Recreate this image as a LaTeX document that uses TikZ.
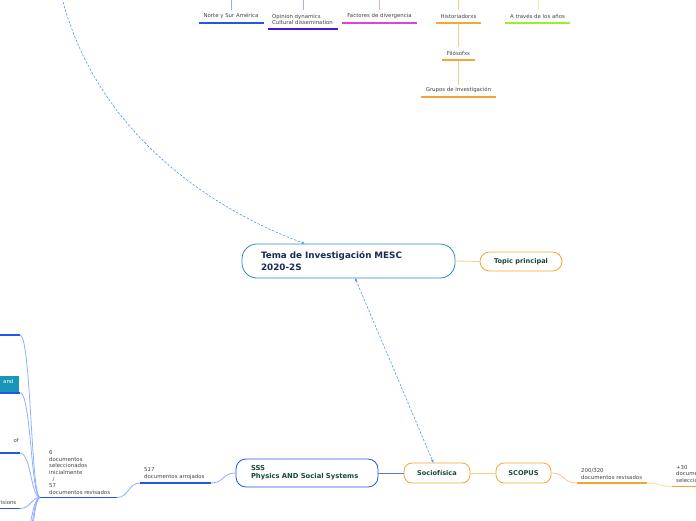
\documentclass[tikz,border=0pt]{standalone}
\usepackage{fontspec}
\setmainfont{DejaVu Sans}
\usetikzlibrary{arrows.meta}
\definecolor{navy}{HTML}{1A2A50}
\definecolor{dgreen}{HTML}{174A3A}
\definecolor{lbl}{HTML}{444444}
\definecolor{cblue}{HTML}{2A8AD0}
\definecolor{sblue}{HTML}{2255EE}
\definecolor{mblue}{HTML}{5577EE}
\definecolor{lblue}{HTML}{8FB0FF}
\definecolor{dashblue}{HTML}{4F95EE}
\definecolor{orng}{HTML}{F5A533}
\definecolor{lorng}{HTML}{FBCB85}
\definecolor{llorng}{HTML}{FDE3B8}
\definecolor{purp}{HTML}{5511DD}
\definecolor{lpurp}{HTML}{C2A6F5}
\definecolor{mag}{HTML}{E040E0}
\definecolor{lmag}{HTML}{F0A8F0}
\definecolor{grn}{HTML}{99EE33}
\definecolor{lgrn}{HTML}{D6F7B0}
\definecolor{teal}{HTML}{1995B8}
\tikzset{
  lab/.style={font=\fontsize{5.4}{6.6}\selectfont, text=lbl, inner sep=0pt, align=left},
  clab/.style={font=\fontsize{5.4}{6.6}\selectfont, text=lbl, inner sep=0pt, align=center},
  uline/.style={line width=1.6pt},
  conn/.style={line width=0.8pt},
  dashconn/.style={dashblue, line width=0.6pt, dash pattern=on 2.4pt off 1.6pt},
  tip/.style={-{Latex[length=3.2pt,width=2.6pt]}},
  bigbox/.style={draw=cblue, line width=0.8pt, rounded corners=15pt, minimum width=213pt, minimum height=34pt, text width=175pt, inner xsep=19pt, align=left, font=\bfseries\fontsize{8.8}{12.6}\selectfont, text=navy},
  obox/.style={draw=orng, line width=0.8pt, minimum height=20pt, inner xsep=0pt, font=\bfseries\fontsize{6.6}{8}\selectfont, text=dgreen, align=center},
  bbox/.style={draw=sblue, line width=0.8pt, rounded corners=10pt, minimum width=142pt, minimum height=28pt, text width=112pt, inner xsep=15pt, align=left, font=\bfseries\fontsize{6.8}{8.2}\selectfont, text=dgreen}
}
\begin{document}
\begin{tikzpicture}[x=1pt,y=-1pt]
\useasboundingbox (0,0) rectangle (696,520);
\clip (0,0) rectangle (696,520);
\fill[white] (0,0) rectangle (696,520);

% ---------- top row ----------
\coordinate (n1t) at (231,-20); \coordinate (n1b) at (231,10);
\coordinate (n2t) at (303,-20); \coordinate (n2b) at (303,10);
\coordinate (n3t) at (379,-20); \coordinate (n3b) at (379,10);
\coordinate (n4t) at (458.5,-20); \coordinate (n4b) at (458.5,10);
\coordinate (n5t) at (538,-20); \coordinate (n5b) at (538,10);
\draw[conn, lblue] (n1t) -- (n1b);
\draw[conn, lpurp] (n2t) -- (n2b);
\draw[conn, lmag] (n3t) -- (n3b);
\draw[conn, lorng] (n4t) -- (n4b);
\draw[conn, lgrn] (n5t) -- (n5b);

\node[clab] (norte) at (231,16) {Norte y Sur América};
\coordinate (norteL) at (199,22.7); \coordinate (norteR) at (264,22.7);
\draw[uline, sblue] (norteL) -- (norteR);

\node[lab, anchor=west] (opinion) at (272,19.5) {Opinion dynamics\\Cultural dissemination};
\coordinate (opL) at (268,29); \coordinate (opR) at (338,29);
\draw[uline, purp] (opL) -- (opR);

\node[clab] (factores) at (379.5,16) {Factores de divergencia};
\coordinate (facL) at (342,22.7); \coordinate (facR) at (417,22.7);
\draw[uline, mag] (facL) -- (facR);

\node[clab] (hist) at (458.5,16) {Historiadorxs};
\coordinate (histL) at (436,22.7); \coordinate (histR) at (481,22.7);
\coordinate (histB) at (458.5,23.5);
\draw[uline, orng] (histL) -- (histR);

\node[clab] (anos) at (537.5,16) {A través de los años};
\coordinate (anosL) at (505,22.7); \coordinate (anosR) at (570,22.7);
\draw[uline, grn] (anosL) -- (anosR);

\node[clab] (filo) at (458.5,53) {Filósofxs};
\coordinate (filoT) at (458.5,47); \coordinate (filoB) at (458.5,61);
\coordinate (filoL) at (442,60); \coordinate (filoR) at (475,60);
\draw[uline, orng] (filoL) -- (filoR);
\draw[conn, lorng] (histB) -- (filoT);

\node[clab] (grupos) at (458.5,90) {Grupos de investigación};
\coordinate (grupT) at (458.5,85);
\coordinate (grupL) at (421,97); \coordinate (grupR) at (496,97);
\draw[uline, orng] (grupL) -- (grupR);
\draw[conn, lorng] (filoB) -- (grupT);

% ---------- central ----------
\node[bigbox] (tema) at (348.5,261) {Tema de Investigación MESC\\2020-2S};
\node[obox, rounded corners=9.5pt, minimum width=82pt, minimum height=19pt] (topic) at (521,261.5) {Topic principal};
\draw[conn, lorng] (tema.east) -- (topic.west);

% dashed curve from top
\coordinate (dtop) at (62,-2);
\coordinate (temaTop) at (305,243.6);
\draw[dashconn, tip] (dtop) .. controls (95,125) and (200,205) .. (temaTop);

% ---------- bottom row ----------
\node[bbox] (sss) at (307,473) {SSS\\Physics AND Social Systems};
\node[obox, rounded corners=8pt, minimum width=66pt] (socio) at (437,473) {Sociofísica};
\node[obox, rounded corners=8pt, minimum width=55pt] (scopus) at (523.5,473) {SCOPUS};
\draw[conn, mblue] (sss.east) -- (socio.west);
\draw[conn, lorng] (socio.east) -- (scopus.west);

\coordinate (temaBot) at (355,277.8);
\coordinate (socioTop) at (433.5,463);
\draw[dashconn, {Latex[length=3.2pt,width=2.6pt]}-{Latex[length=3.2pt,width=2.6pt]}] (temaBot) -- (socioTop);

% SCOPUS branch
\node[lab, anchor=south west] (r200) at (581,479.5) {200/320\\documentos revisados};
\coordinate (r200L) at (577,483); \coordinate (r200R) at (647,483);
\draw[conn, lorng] (scopus.east) .. controls (565,473) and (563,483) .. (r200L);
\draw[uline, orng] (r200L) -- (r200R);
\node[lab, anchor=south west] (r30) at (676,482.5) {+30\\documentos\\seleccionados};
\coordinate (r30L) at (672,486.5); \coordinate (r30R) at (700,486.5);
\draw[conn, llorng, line width=1.1pt] (r200R) .. controls (660,483) and (659,486.5) .. (r30L);
\draw[uline, orng] (r30L) -- (r30R);

% SSS branch
\node[lab, anchor=south west] (l517) at (144,479.5) {517\\documentos arrojados};
\coordinate (l517L) at (140,483); \coordinate (l517R) at (211,483);
\draw[conn, lblue] (sss.west) .. controls (222,473) and (224,483) .. (l517R);
\draw[uline, sblue] (l517L) -- (l517R);

\node[lab, anchor=south west] (l6) at (49,494.5) {6\\documentos\\seleccionados\\inicialmente\\\ \ /\\57\\documentos revisados};
\coordinate (l6L) at (40,497.5); \coordinate (l6R) at (117,497.5);
\draw[conn, lblue] (l517L) .. controls (128,483) and (129,497.5) .. (l6R);
\draw[uline, sblue] (l6L) -- (l6R);

% left nodes
\coordinate (a1L) at (-5,335); \coordinate (a1R) at (20,335);
\draw[uline, sblue] (a1L) -- (a1R);

\node[fill=teal, minimum width=24pt, minimum height=16.5pt, anchor=north east, inner sep=0pt] (tealbox) at (19.5,376) {};
\node[font=\fontsize{5.4}{6.6}\selectfont, text=white, anchor=west, inner sep=0pt] (andtxt) at (3,381.5) {and};
\coordinate (a2L) at (-5,392.7); \coordinate (a2R) at (20,392.7);
\draw[uline, sblue] (a2L) -- (a2R);

\node[lab, anchor=east] (oftxt) at (19,440) {of};
\coordinate (a3L) at (-5,453); \coordinate (a3R) at (20,453);
\draw[uline, sblue] (a3L) -- (a3R);

\node[lab, anchor=east] (ristxt) at (16.5,502) {risions};
\coordinate (a4L) at (-5,508.5); \coordinate (a4R) at (20,508.5);
\draw[uline, sblue] (a4L) -- (a4R);

\coordinate (a5R) at (20,545);
\coordinate (a6R) at (20,570);
\coordinate (a7R) at (20,600);

\foreach \t in {a1R,a2R,a3R,a4R,a5R,a6R,a7R}{
  \draw[conn, lblue] (l6L) .. controls (31,497.5) and (31,0|-\t) .. (\t);
}
\end{tikzpicture}
\end{document}
